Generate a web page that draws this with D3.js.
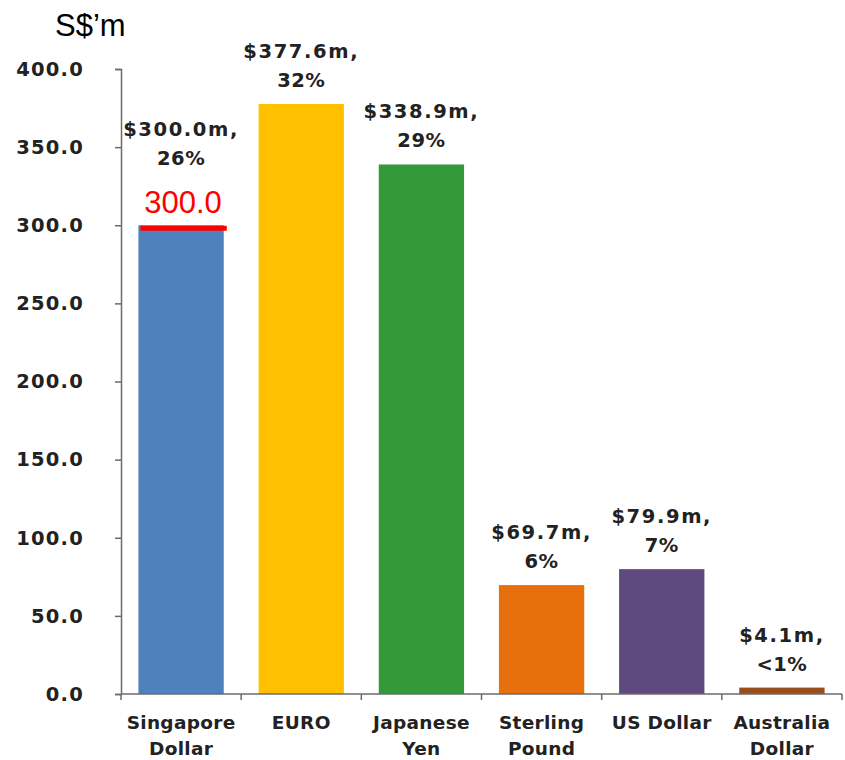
<!DOCTYPE html>
<html>
<head>
<meta charset="utf-8">
<script src="https://cdn.jsdelivr.net/npm/d3@7"></script>
<style>
  html, body { margin: 0; padding: 0; background: #fff; }
  svg { display: block; }
</style>
</head>
<body>
<svg id="chart" width="845" height="760"></svg>
<script>
// Currency breakdown, S$ millions
const categories = ["Singapore Dollar", "EURO", "Japanese Yen", "Sterling Pound", "US Dollar", "Australia Dollar"];
const categoryLines = [["Singapore", "Dollar"], ["EURO"], ["Japanese", "Yen"], ["Sterling", "Pound"], ["US Dollar"], ["Australia", "Dollar"]];
const values = [300.0, 377.6, 338.9, 69.7, 79.9, 4.1];
const valueLabels = ["$300.0m,", "$377.6m,", "$338.9m,", "$69.7m,", "$79.9m,", "$4.1m,"];
const shareLabels = ["26%", "32%", "29%", "6%", "7%", "<1%"];
const colors = ["#4f81bd", "#ffc000", "#339a3a", "#e8700c", "#5e4a7d", "#9a4d1c"];
const yTicks = [0, 50, 100, 150, 200, 250, 300, 350, 400];
const markerValue = 300.0; // highlighted level on the first bar

const svg = d3.select("#chart");
const x = d3.scaleBand().domain(categories).range([121, 842]).paddingInner(0.29).paddingOuter(0.145);
const y = d3.scaleLinear().domain([0, 400]).range([694, 69]);

const font = "'DejaVu Sans', Verdana, sans-serif";
const axisColor = "#6b6b6b";

// Bars
svg.append("g").selectAll("rect")
  .data(values)
  .join("rect")
  .attr("x", (d, i) => x(categories[i]))
  .attr("y", d => y(d))
  .attr("width", x.bandwidth())
  .attr("height", d => y(0) - y(d))
  .attr("fill", (d, i) => colors[i]);

// Y axis
const yAxis = svg.append("g")
  .attr("transform", "translate(121,0)")
  .call(d3.axisLeft(y).tickValues(yTicks).tickFormat(d3.format(".1f")).tickSize(6).tickPadding(31));
yAxis.select(".domain").attr("stroke", axisColor).attr("stroke-width", 1.5);
yAxis.selectAll(".tick line").attr("stroke", axisColor).attr("stroke-width", 1.5);
yAxis.selectAll(".tick text")
  .attr("font-family", font).attr("font-weight", "bold").attr("font-size", 19.5)
  .attr("letter-spacing", 1.2).attr("fill", "#222");

// X axis line with band-boundary ticks
const xAxis = svg.append("g").attr("transform", `translate(0,${y(0)})`);
xAxis.append("line").attr("x1", 121).attr("x2", 842).attr("stroke", axisColor).attr("stroke-width", 1.5);
const step = x.step();
xAxis.selectAll(".bt").data(d3.range(categories.length + 1)).join("line")
  .attr("x1", i => 121 + i * step).attr("x2", i => 121 + i * step)
  .attr("y1", 0).attr("y2", 6)
  .attr("stroke", axisColor).attr("stroke-width", 1.5);

// Category labels
svg.append("g").selectAll("text")
  .data(categories)
  .join("text")
  .attr("x", d => x(d) + x.bandwidth() / 2)
  .attr("y", 729)
  .attr("text-anchor", "middle")
  .attr("font-family", font).attr("font-weight", "bold").attr("font-size", 18.5)
  .attr("letter-spacing", 0.3)
  .attr("fill", "#222")
  .each(function(d, i) {
    const t = d3.select(this);
    categoryLines[i].forEach((ln, k) => {
      t.append("tspan").attr("x", x(d) + x.bandwidth() / 2).attr("dy", k === 0 ? 0 : 26).text(ln);
    });
  });

// Value / share labels above bars (first one lifted above the marker)
const labels = svg.append("g").selectAll("g")
  .data(values)
  .join("g")
  .attr("transform", (d, i) => `translate(${x(categories[i]) + x.bandwidth() / 2},${y(d) - (i === 0 ? 43 : 0)})`);
labels.append("text")
  .attr("y", -46).attr("text-anchor", "middle")
  .attr("font-family", font).attr("font-weight", "bold").attr("font-size", 19.5)
  .attr("letter-spacing", 1.6).attr("fill", "#222")
  .text((d, i) => valueLabels[i]);
labels.append("text")
  .attr("y", -17).attr("text-anchor", "middle")
  .attr("font-family", font).attr("font-weight", "bold").attr("font-size", 19.5)
  .attr("letter-spacing", 0.5).attr("fill", "#222")
  .text((d, i) => shareLabels[i]);

// Red marker at the Singapore Dollar level
const mx = x(categories[0]);
svg.append("line")
  .attr("x1", mx + 2).attr("x2", mx + x.bandwidth() + 3)
  .attr("y1", y(markerValue) + 3).attr("y2", y(markerValue) + 3)
  .attr("stroke", "#ff0000").attr("stroke-width", 5);
svg.append("text")
  .attr("x", mx + x.bandwidth() / 2 + 2).attr("y", y(markerValue) - 12)
  .attr("text-anchor", "middle")
  .attr("font-family", "'Liberation Sans', Arial, sans-serif").attr("font-size", 31)
  .attr("fill", "#ff0000")
  .text(d3.format(".1f")(markerValue));

// Unit title
svg.append("text")
  .attr("x", 55).attr("y", 36)
  .attr("font-family", "'Liberation Sans', Arial, sans-serif").attr("font-size", 31)
  .attr("fill", "#000")
  .text("S$\u2019m");
</script>
</body>
</html>
